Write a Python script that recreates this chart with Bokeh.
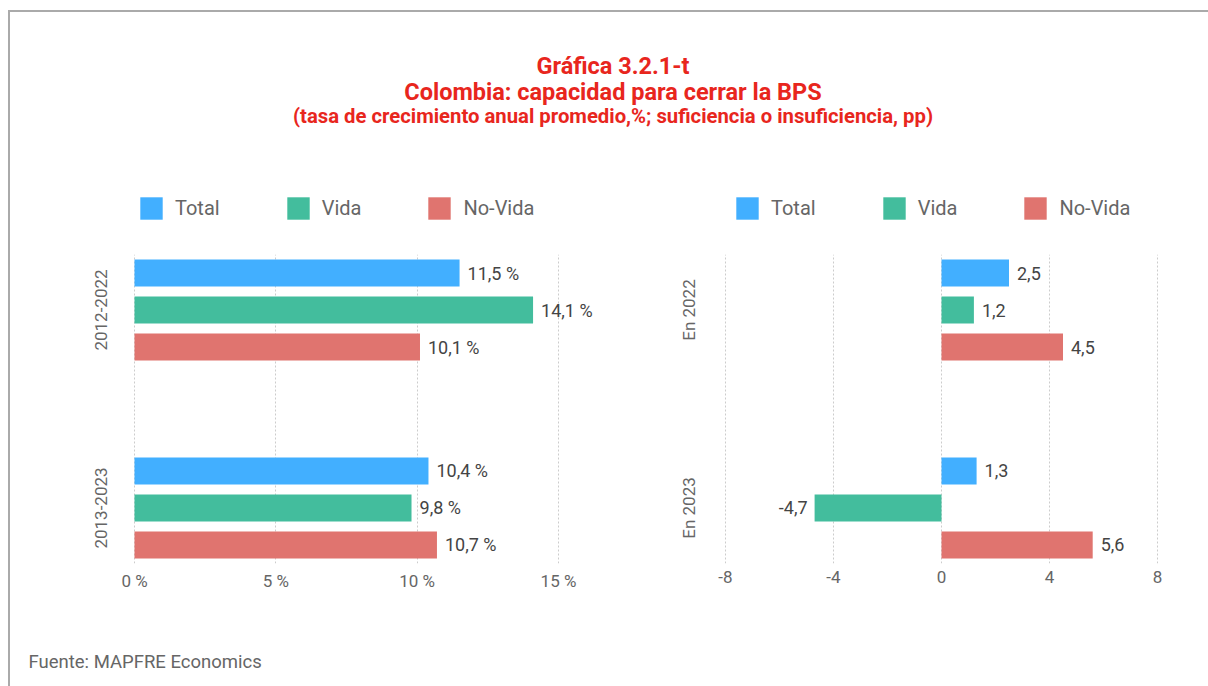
import math
from bokeh.plotting import figure
from bokeh.models import (FactorRange, Range1d, FixedTicker, Legend, LegendItem,
                          ColumnDataSource, Spacer)
from bokeh.layouts import column, row
from bokeh.embed import file_html
from bokeh.resources import INLINE
from bokeh.core.properties import value

FONT = "Roboto"

# ---------------- data ----------------
series = ["Total", "Vida", "No-Vida"]
series_colors = ["#42afff", "#43bd9d", "#e0746f"]

left_groups = ["2012-2022", "2013-2023"]
left_total = [11.5, 10.4]
left_vida = [14.1, 9.8]
left_novida = [10.1, 10.7]
left_ticks = [0, 5, 10, 15]
left_tick_labels = ["0 %", "5 %", "10 %", "15 %"]

right_groups = ["En 2022", "En 2023"]
right_total = [2.5, 1.3]
right_vida = [1.2, -4.7]
right_novida = [4.5, 5.6]
right_ticks = [-8, -4, 0, 4, 8]
right_tick_labels = ["-8", "-4", "0", "4", "8"]

title_lines = ["Gráfica 3.2.1-t",
               "Colombia: capacidad para cerrar la BPS",
               "(tasa de crecimiento anual promedio,%; suficiencia o insuficiencia, pp)"]
source_note = "Fuente: MAPFRE Economics"

TITLE_RED = "#e8261d"
GRID = "#cccccc"
TEXT_GREY = "#666666"
LABEL_GREY = "#444444"

INNER_W = 1198
HEADER_H = 228
CHART_H = 360
FOOTER_H = 86
FRAME_TOP = 14
FRAME_BOTTOM = 37


def fmt(v, suffix):
    return f"{v:.1f}".replace(".", ",") + suffix


def make_chart(groups, vals_by_series, ticks, tick_labels, x_start, x_end, suffix,
               width, mb_right, group_offset):
    factors = [(g, s) for g in groups for s in series]
    yr = FactorRange(factors=list(reversed(factors)), factor_padding=0,
                     group_padding=2.35, range_padding=0)
    p = figure(width=width, height=CHART_H, y_range=yr,
               x_range=Range1d(x_start, x_end), y_axis_location=None,
               output_backend="svg", toolbar_location=None,
               min_border_left=0, min_border_right=mb_right,
               min_border_top=FRAME_TOP, min_border_bottom=FRAME_BOTTOM)
    p.outline_line_color = None
    for s, vals, c in zip(series, vals_by_series, series_colors):
        src = ColumnDataSource(dict(
            y=[(g, s) for g in groups],
            x=vals,
            label=[fmt(v, suffix) for v in vals],
            off=[8 if v >= 0 else -7 for v in vals],
            align=["left" if v >= 0 else "right" for v in vals],
        ))
        p.hbar(y="y", left=0, right="x", height=0.73, source=src,
               fill_color=c, line_color=None)
        p.text(x="x", y="y", text="label", x_offset="off", text_align="align",
               text_baseline="middle", source=src, text_font=value(FONT),
               text_font_size="18px", text_color=LABEL_GREY)

    # group (category) labels, rotated, placed left of the first tick
    gsrc = ColumnDataSource(dict(y=groups, x=[ticks[0]] * len(groups), text=groups))
    p.text(x="x", y="y", text="text", source=gsrc, x_offset=group_offset,
           angle=math.pi / 2, text_align="center", text_baseline="middle",
           text_font=value(FONT), text_font_size="17px", text_color=TEXT_GREY)

    xa = p.xaxis[0]
    xa.ticker = FixedTicker(ticks=ticks)
    xa.major_label_overrides = dict(zip(ticks, tick_labels))
    xa.axis_line_color = None
    xa.major_tick_line_color = None
    xa.minor_tick_line_color = None
    xa.major_tick_out = 0
    xa.major_label_standoff = 7
    xa.major_label_text_font = FONT
    xa.major_label_text_font_size = "17px"
    xa.major_label_text_color = TEXT_GREY

    p.xgrid.grid_line_color = GRID
    p.xgrid.grid_line_dash = "2 2"
    p.ygrid.grid_line_color = None
    return p


# left chart: 0 -> page x 134, 15 -> page x 558 ; figure starts at page x 10
lpx = (558 - 134) / 15.0
left = make_chart(left_groups, [left_total, left_vida, left_novida], left_ticks,
                  left_tick_labels, -(134 - 10) / lpx, (600 - 134) / lpx, " %",
                  600, 10, -34)
# right chart: -8 -> page x 725, 8 -> page x 1157 ; figure starts at page x 610
rpx = (1157 - 725) / 16.0
right = make_chart(right_groups, [right_total, right_vida, right_novida], right_ticks,
                   right_tick_labels, -8 - (725 - 610) / rpx, 8 + (1173 - 1157) / rpx, "",
                   598, 35, -37)


def blank(width, height):
    f = figure(width=width, height=height, x_range=Range1d(0, width),
               y_range=Range1d(height, 0), output_backend="svg",
               toolbar_location=None, min_border=0,
               x_axis_location=None, y_axis_location=None)
    f.grid.visible = False
    f.outline_line_color = None
    return f


header = blank(INNER_W, HEADER_H)
hsrc = ColumnDataSource(dict(x=[602.5] * 3, y=[53, 79, 103], text=title_lines,
                             size=["23.5px", "23.5px", "20.3px"]))
header.text(x="x", y="y", text="text", source=hsrc, text_align="center",
            text_baseline="middle", text_font=value(FONT), text_font_size="size",
            text_font_style="bold", text_color=TITLE_RED)

# legends (one above each chart); swatch proxies are zero-size bars
for lx in (127, 723):
    items = []
    for s, c in zip(series, series_colors):
        r = header.hbar(y=[0], left=[0], right=[0], height=0,
                        fill_color=c, line_color=None)
        items.append(LegendItem(label=s, renderers=[r]))
    lg = Legend(items=items, orientation="horizontal", location=(lx, 18),
                glyph_width=28, glyph_height=28, label_standoff=10, spacing=64,
                padding=0, margin=0, border_line_color=None,
                background_fill_alpha=0, label_text_font=FONT,
                label_text_font_size="20px", label_text_color=TEXT_GREY,
                label_height=28)
    header.add_layout(lg, "center")

footer = blank(INNER_W, FOOTER_H)
footer.text(x=[18], y=[61], text=[source_note], text_align="left",
            text_baseline="middle", text_font=value(FONT), text_font_size="18.5px",
            text_color=TEXT_GREY)

inner = column(header, row(left, right), footer,
               styles={"border-left": "2px solid #aaaaaa",
                       "border-top": "2px solid #aaaaaa"})
layout = column(Spacer(width=1, height=10), row(Spacer(width=8, height=1), inner))

open("out.html", "w").write(file_html(layout, INLINE))
